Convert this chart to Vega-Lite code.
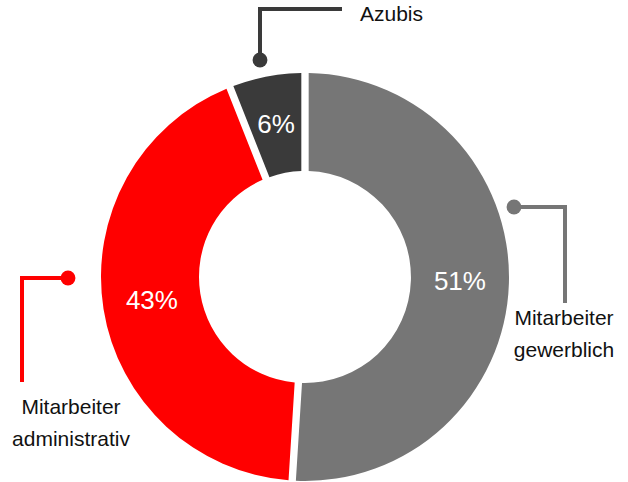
{
  "$schema": "https://vega.github.io/schema/vega-lite/v6.json",
  "width": 610,
  "height": 410,
  "autosize": {"type": "none"},
  "padding": {"left": 0, "top": 72, "right": 18, "bottom": 0},
  "background": "white",
  "config": {"view": {"stroke": null}, "font": "Liberation Sans"},
  "datasets": {
    "shares": [
      {"kategorie": "Mitarbeiter gewerblich", "anteil": 51, "label": "51%", "o": 1},
      {"kategorie": "Mitarbeiter administrativ", "anteil": 43, "label": "43%", "o": 2},
      {"kategorie": "Azubis", "anteil": 6, "label": "6%", "o": 3}
    ],
    "leaders": [
      {"kategorie": "Azubis", "step": 1, "x": -45, "y": -217},
      {"kategorie": "Azubis", "step": 2, "x": -45, "y": -268},
      {"kategorie": "Azubis", "step": 3, "x": 37, "y": -268},
      {"kategorie": "Mitarbeiter administrativ", "step": 1, "x": -237, "y": 1},
      {"kategorie": "Mitarbeiter administrativ", "step": 2, "x": -283, "y": 1},
      {"kategorie": "Mitarbeiter administrativ", "step": 3, "x": -283, "y": 105},
      {"kategorie": "Mitarbeiter gewerblich", "step": 1, "x": 209, "y": -70},
      {"kategorie": "Mitarbeiter gewerblich", "step": 2, "x": 260, "y": -70},
      {"kategorie": "Mitarbeiter gewerblich", "step": 3, "x": 260, "y": 26}
    ],
    "names": [
      {"kategorie": "Azubis", "text": "Azubis", "x": 55, "y": -262, "align": "left"},
      {"kategorie": "Mitarbeiter administrativ", "text": "Mitarbeiter\nadministrativ", "x": -234, "y": 131, "align": "center"},
      {"kategorie": "Mitarbeiter gewerblich", "text": "Mitarbeiter\ngewerblich", "x": 259, "y": 42, "align": "center"}
    ]
  },
  "layer": [
    {
      "data": {"name": "shares"},
      "mark": {"type": "arc", "outerRadius": 204, "innerRadius": 106, "padAngle": 0.032},
      "encoding": {
        "theta": {"field": "anteil", "type": "quantitative", "stack": true},
        "order": {"field": "o", "type": "quantitative"},
        "color": {
          "field": "kategorie", "type": "nominal", "legend": null,
          "scale": {
            "domain": ["Mitarbeiter gewerblich", "Mitarbeiter administrativ", "Azubis"],
            "range": ["#767676", "#ff0000", "#3a3a3a"]
          }
        }
      }
    },
    {
      "data": {"name": "shares"},
      "mark": {"type": "text", "radius": 155, "fontSize": 26, "color": "white", "baseline": "middle", "align": "center"},
      "encoding": {
        "theta": {"field": "anteil", "type": "quantitative", "stack": true},
        "order": {"field": "o", "type": "quantitative"},
        "text": {"field": "label"}
      }
    },
    {
      "data": {"name": "leaders"},
      "mark": {"type": "line", "strokeWidth": 4, "strokeCap": "butt", "strokeJoin": "miter"},
      "encoding": {
        "x": {"field": "x", "type": "quantitative", "axis": null, "scale": {"domain": [-305, 305], "nice": false, "zero": false}},
        "y": {"field": "y", "type": "quantitative", "axis": null, "scale": {"domain": [-205, 205], "nice": false, "zero": false, "reverse": true}},
        "order": {"field": "step", "type": "quantitative"},
        "detail": {"field": "kategorie"},
        "color": {"field": "kategorie", "type": "nominal", "legend": null}
      }
    },
    {
      "data": {"name": "leaders"},
      "transform": [{"filter": "datum.step == 1"}],
      "mark": {"type": "circle", "size": 220, "opacity": 1},
      "encoding": {
        "x": {"field": "x", "type": "quantitative"},
        "y": {"field": "y", "type": "quantitative"},
        "color": {"field": "kategorie", "type": "nominal", "legend": null}
      }
    },
    {
      "data": {"name": "names"},
      "transform": [{"filter": "datum.align == 'left'"}],
      "mark": {"type": "text", "fontSize": 21, "color": "#111111", "baseline": "middle", "align": "left"},
      "encoding": {
        "x": {"field": "x", "type": "quantitative"},
        "y": {"field": "y", "type": "quantitative"},
        "text": {"field": "text"}
      }
    },
    {
      "data": {"name": "names"},
      "transform": [{"filter": "datum.align == 'center'"}],
      "mark": {"type": "text", "fontSize": 21, "color": "#111111", "baseline": "middle", "align": "center", "lineBreak": "\n", "lineHeight": 32},
      "encoding": {
        "x": {"field": "x", "type": "quantitative"},
        "y": {"field": "y", "type": "quantitative"},
        "text": {"field": "text"}
      }
    }
  ]
}
